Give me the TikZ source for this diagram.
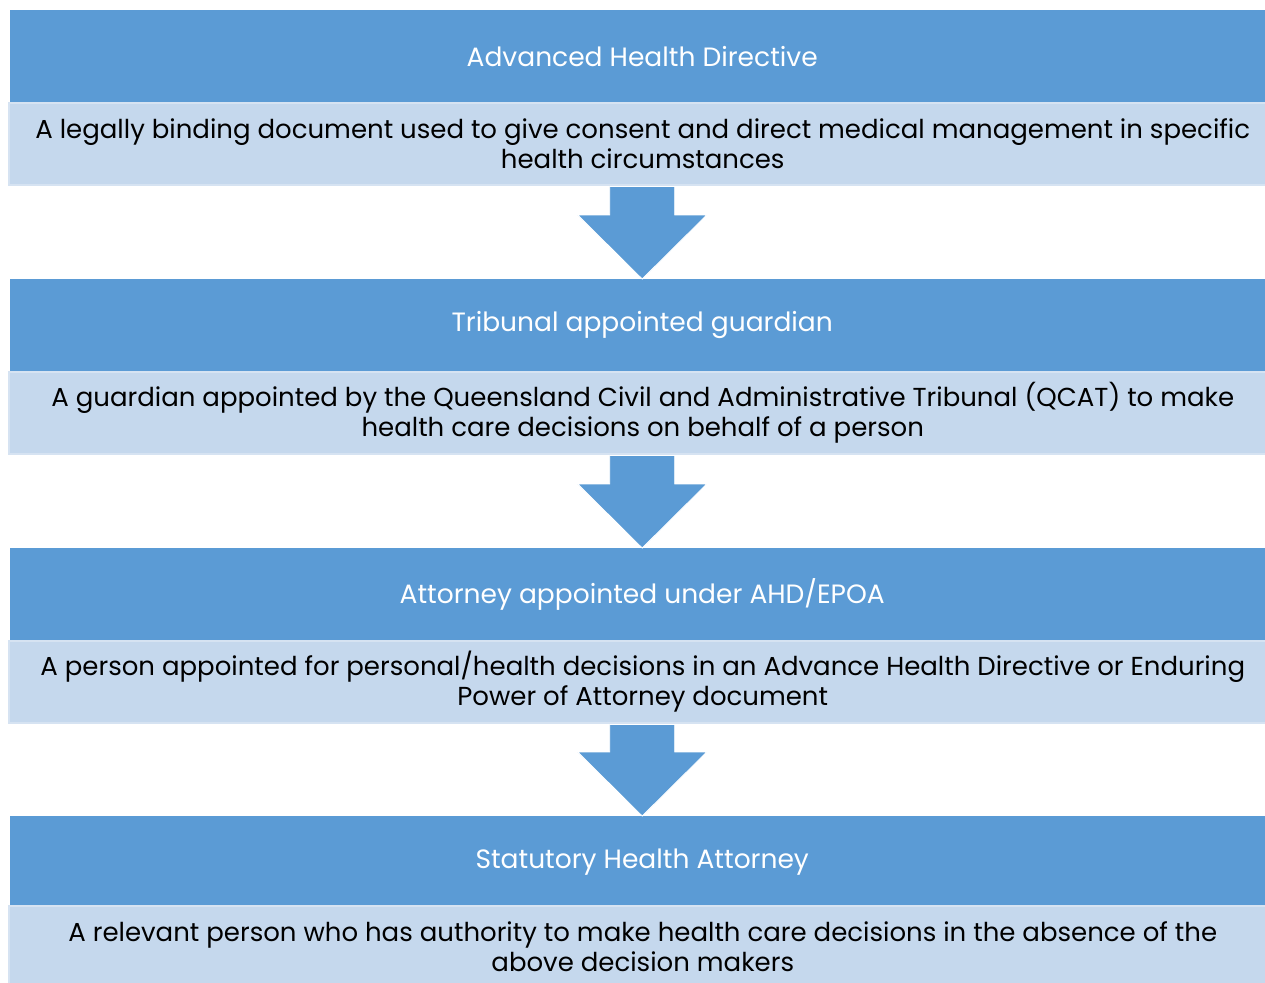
\documentclass[tikz,border=0pt]{standalone}
\usepackage{fontspec}
\setmainfont{Poppins}
\usetikzlibrary{calc}
\definecolor{hdrblue}{HTML}{5B9BD5}
\definecolor{descblue}{HTML}{C5D8ED}
\definecolor{descedge}{HTML}{D6E3F2}
\begin{document}
\begin{tikzpicture}[x=1pt,y=-1pt,
  hdr/.style={fill=hdrblue, draw=none, anchor=north west, minimum width=1264pt,
    minimum height=92pt, inner sep=0pt, text=white, font=\fontsize{26.5}{30}\selectfont},
  desc/.style={fill=descblue, draw=descedge, line width=1.5pt, anchor=north west,
    minimum width=1268pt, minimum height=82pt, inner sep=0pt, align=center,
    text=black, font=\fontsize{26}{29.5}\selectfont},
  flowarrow/.style={fill=hdrblue, draw=white, line width=0.8pt}]
\useasboundingbox (0,0) rectangle (1265,982);

% four stages, each a header bar over a description box
\node[hdr]  (h1) at (10,10)  {Advanced Health Directive};
\node[desc] (d1) at (8,102)  {A legally binding document used to give consent and direct medical management in specific\\health circumstances};
\node[hdr]  (h2) at (10,279) {Tribunal appointed guardian};
\node[desc] (d2) at (8,371)  {A guardian appointed by the Queensland Civil and Administrative Tribunal (QCAT) to make\\health care decisions on behalf of a person};
\node[hdr]  (h3) at (10,548) {Attorney appointed under AHD/EPOA};
\node[desc] (d3) at (8,640)  {A person appointed for personal/health decisions in an Advance Health Directive or Enduring\\Power of Attorney document};
\node[hdr]  (h4) at (10,816) {Statutory Health Attorney};
\node[desc] (d4) at (8,905)  {A relevant person who has authority to make health care decisions in the absence of the\\above decision makers};

% block arrows between consecutive stages
\foreach \a/\b in {d1/h2, d2/h3, d3/h4}{
  \path let \p1=($(\a.south)$), \p2=($(\b.north)$) in
    [flowarrow] (\x2-32.5,\y1-1) -- (\x2+32.5,\y1-1) -- (\x2+32.5,\y2+64)
    -- (\x2+64.5,\y2+64) -- (\b.north) -- (\x2-64.5,\y2+64) -- (\x2-32.5,\y2+64) -- cycle;
}
\end{tikzpicture}
\end{document}
